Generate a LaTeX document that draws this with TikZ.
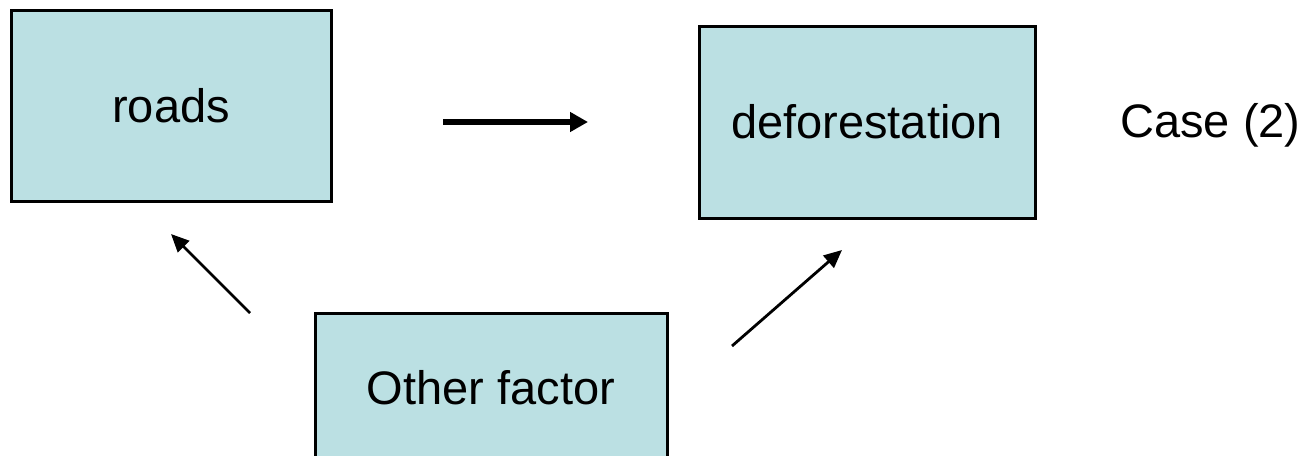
\documentclass[tikz,border=0pt]{standalone}
\usepackage{fontspec}
\setmainfont{Liberation Sans}
\usetikzlibrary{arrows.meta}
\definecolor{boxfill}{RGB}{187,224,227}
\tikzset{
  box/.style={draw=black, line width=3pt, fill=boxfill, rectangle, inner sep=0pt,
    font=\fontsize{47}{56}\selectfont},
  label/.style={inner sep=0pt, font=\fontsize{47}{56}\selectfont},
  thickarrow/.style={line width=5.5pt, -{Triangle[length=18pt,width=19pt]}},
  thinarrow/.style={line width=2.8pt, -{Triangle[length=18pt,width=16pt]}}
}
\begin{document}
\begin{tikzpicture}[x=1pt,y=-1pt]
\useasboundingbox (0,0) rectangle (1316,455);
\clip (0,0) rectangle (1316,455);
\node[box, minimum width=320pt, minimum height=191pt] (roads) at (171,105.5) {roads};
\node[box, minimum width=336pt, minimum height=192pt] (defor) at (867,122) {deforestation};
\node[box, minimum width=352pt, minimum height=150pt] (other) at (491,388) {Other factor};
\node[label] (case) at (1210.5,125) {Case (2)};
\coordinate (a1s) at (443,122);
\coordinate (a1e) at (588,122);
\coordinate (a2s) at (250,313);
\coordinate (a2e) at (171,234);
\coordinate (a3s) at (732,346);
\coordinate (a3e) at (842,250);
\draw[thickarrow] (a1s) -- (a1e);
\draw[thinarrow] (a2s) -- (a2e);
\draw[thinarrow] (a3s) -- (a3e);
\end{tikzpicture}
\end{document}
